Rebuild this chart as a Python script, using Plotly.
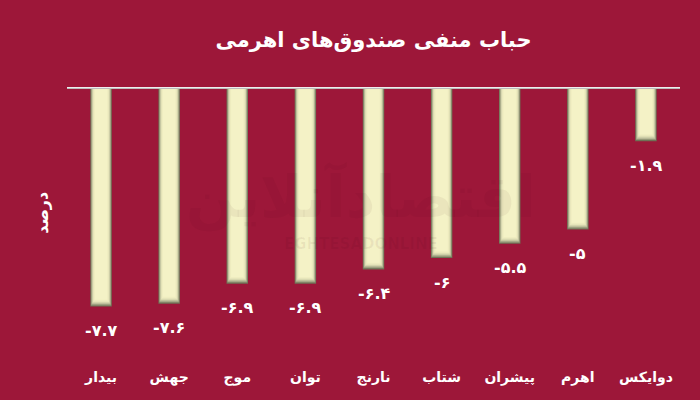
import plotly.graph_objects as go

# ---- data ----
categories = ["بیدار", "جهش", "موج", "توان", "نارنج", "شتاب", "پیشران", "اهرم", "دوایکس"]
values = [-7.7, -7.6, -6.9, -6.9, -6.4, -6.0, -5.5, -5.0, -1.9]
title_text = "حباب منفی صندوق\u200cهای اهرمی"
y_title = "درصد"
watermark_fa = "اقتصادآنلاین"
watermark_en = "EGHTESADONLINE"

fa_digits = str.maketrans("0123456789", "۰۱۲۳۴۵۶۷۸۹")
value_labels = [f"{v:g}".translate(fa_digits) for v in values]

BG = "#9D1739"
FONT = "DejaVu Sans"

fig = go.Figure()

# cylinder-like shading: overlaid bars from dark edge to light centre
layers = [
    (0.315, "#6E7256", 0.00),
    (0.295, "#959878", 0.04),
    (0.275, "#B9BA97", 0.08),
    (0.255, "#D4D4AC", 0.12),
    (0.235, "#E6E5BA", 0.16),
    (0.21, "#EFEDC0", 0.20),
    (0.18, "#F4F2C6", 0.24),
]
for w, c, d in layers:
    fig.add_trace(go.Bar(
        x=categories, y=[v + d for v in values], width=w,
        marker=dict(color=c, line=dict(width=0)),
        hoverinfo="skip", showlegend=False,
    ))

for cat, v, lab in zip(categories, values, value_labels):
    fig.add_annotation(x=cat, y=v, text=lab, showarrow=False, yshift=-24,
                       font=dict(family=FONT, size=16, color="white", weight="bold"))

# zero line (white with grey rim)
fig.add_shape(type="line", xref="paper", yref="y", x0=0, x1=1, y0=0, y1=0,
              line=dict(color="#BDBDBD", width=4), layer="above")
fig.add_shape(type="line", xref="paper", yref="y", x0=0, x1=1, y0=0, y1=0,
              line=dict(color="white", width=1.6), layer="above")

# faint watermark
fig.add_annotation(xref="paper", yref="paper", x=0.48, y=0.61, text=watermark_fa,
                   showarrow=False, font=dict(family=FONT, size=58, color="rgba(60,0,15,0.05)", weight="bold"))
fig.add_annotation(xref="paper", yref="paper", x=0.48, y=0.44, text=watermark_en,
                   showarrow=False, font=dict(family=FONT, size=15, color="rgba(60,0,15,0.06)", weight="bold"))

# y-axis title
fig.add_annotation(xref="paper", yref="paper", x=-0.041, y=0.55, xanchor="center", yanchor="middle",
                   text=y_title, textangle=-90, showarrow=False,
                   font=dict(family=FONT, size=16, color="white", weight="bold"))

fig.update_layout(
    width=700, height=400,
    paper_bgcolor=BG, plot_bgcolor=BG,
    barmode="overlay", bargap=0.68,
    margin=dict(l=67, r=20, t=87, b=33),
    title=dict(text=title_text, x=0.5, xref="paper", xanchor="center",
               y=1 - 40 / 400, yanchor="middle",
               font=dict(family=FONT, size=21, color="white", weight="bold")),
    xaxis=dict(showgrid=False, zeroline=False, showline=False, ticks="",
               tickfont=dict(family=FONT, size=14, color="white", weight="bold")),
    yaxis=dict(range=[-9.82, 0], showgrid=False, zeroline=False, showline=False,
               showticklabels=False, ticks=""),
    showlegend=False,
)

fig.write_html("out.html", config={"displayModeBar": False},
               post_script="document.body.style.margin='0';")
